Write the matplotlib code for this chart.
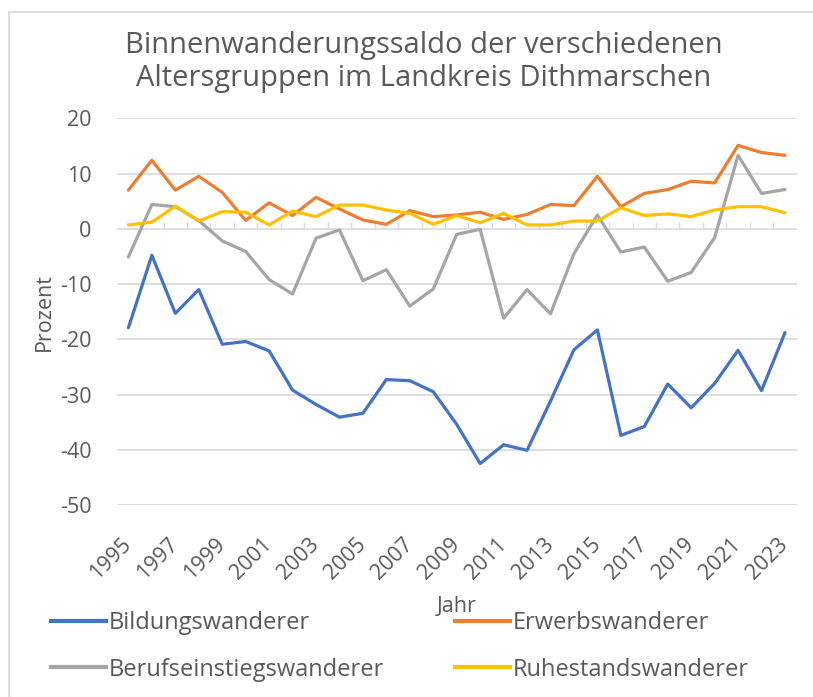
#!/usr/bin/env python3
"""Binnenwanderungssaldo der Altersgruppen im Landkreis Dithmarschen."""

import matplotlib
matplotlib.use("Agg")
import matplotlib.pyplot as plt
from matplotlib.lines import Line2D

# ============================================================================
# DATA
# ============================================================================

years = list(range(1995, 2024))

bildung = [-17.9, -4.8, -15.3, -11.0, -20.9, -20.4, -22.1, -29.2, -31.8, -34.1,
           -33.4, -27.3, -27.5, -29.5, -35.4, -42.5, -39.1, -40.1, -31.2, -21.9,
           -18.3, -37.4, -35.8, -28.1, -32.4, -28.0, -22.0, -29.3, -18.8]
erwerb = [7.0, 12.4, 7.0, 9.5, 6.6, 1.5, 4.7, 2.4, 5.7, 3.6,
          1.6, 0.8, 3.3, 2.2, 2.5, 3.0, 1.7, 2.6, 4.4, 4.2,
          9.5, 4.0, 6.4, 7.1, 8.6, 8.3, 15.1, 13.8, 13.3]
berufseinstieg = [-5.1, 4.4, 4.0, 1.5, -2.2, -4.1, -9.2, -11.8, -1.7, -0.2,
                  -9.4, -7.4, -14.0, -10.9, -1.0, -0.1, -16.2, -11.0, -15.4, -4.5,
                  2.5, -4.2, -3.3, -9.5, -7.9, -1.6, 13.3, 6.4, 7.1]
ruhestand = [0.7, 1.2, 4.1, 1.4, 3.1, 3.0, 0.7, 3.2, 2.2, 4.3,
             4.3, 3.4, 2.8, 0.8, 2.4, 1.1, 2.8, 0.7, 0.7, 1.4,
             1.4, 3.8, 2.4, 2.7, 2.2, 3.4, 4.0, 4.0, 2.9]

series_names = ["Bildungswanderer", "Erwerbswanderer",
                "Berufseinstiegswanderer", "Ruhestandswanderer"]
y_ticks = [20, 10, 0, -10, -20, -30, -40, -50]

# ============================================================================

COLORS = ["#4472C4", "#ED7D31", "#A5A5A5", "#FFC000"]
TEXT = "#595959"
GRID = "#D9D9D9"
FONT = "Open Sans"

plt.rcParams["font.family"] = [FONT, "DejaVu Sans"]
plt.rcParams["axes.unicode_minus"] = False

fig = plt.figure(figsize=(8.13, 6.97), dpi=100)
ax = fig.add_axes([116.7 / 813, 1 - 505 / 697, 680 / 813, (505 - 118.3) / 697])

data = [bildung, erwerb, berufseinstieg, ruhestand]
for values, color in zip(data, COLORS):
    ax.plot(years, values, color=color, linewidth=2.3,
            solid_capstyle="round", solid_joinstyle="round", zorder=3)

ax.set_xlim(years[0] - 0.5, years[-1] + 0.5)
ax.set_ylim(min(y_ticks), max(y_ticks))
ax.set_yticks(y_ticks)
ax.yaxis.grid(True, color=GRID, linewidth=1.2)
ax.set_axisbelow(True)
for side in ["top", "right", "left", "bottom"]:
    ax.spines[side].set_visible(False)

ax.tick_params(axis="y", length=0, pad=18, labelsize=15.5, labelcolor=TEXT)
ax.set_xticks(years[::2])
ax.set_xticklabels([str(y) for y in years[::2]], rotation=45, ha="right",
                   va="center", rotation_mode="anchor")
ax.tick_params(axis="x", length=0, pad=26, labelsize=15.5, labelcolor=TEXT)

# horizontal axis line at y = 0 with tick marks between categories
zero_pos = (0 - min(y_ticks)) / (max(y_ticks) - min(y_ticks))
sec = ax.secondary_xaxis(zero_pos)
sec.set_xticks([y + 0.5 for y in years[:-1]])
sec.set_xticklabels([])
sec.tick_params(axis="x", direction="out", length=5, width=1, color=GRID)
sec.spines["bottom"].set_color(GRID)
sec.spines["bottom"].set_linewidth(1.2)
sec.spines["top"].set_visible(False)

ax.set_ylabel("Prozent", fontsize=15.5, color=TEXT, labelpad=4)
ax.set_xlabel("Jahr", fontsize=15.5, color=TEXT, labelpad=9)

fig.text(424 / 813, 1 - 62 / 697,
         "Binnenwanderungssaldo der verschiedenen\nAltersgruppen im Landkreis Dithmarschen",
         ha="center", va="center", fontsize=21, color=TEXT, linespacing=1.2)

# legend filled row by row (matplotlib fills columns first)
order = [0, 2, 1, 3]
handles = [Line2D([], [], color=COLORS[i], linewidth=3) for i in order]
labels = [series_names[i] for i in order]
fig.legend(handles, labels, ncol=2, loc="upper left",
           bbox_to_anchor=(30 / 813, 1 - 590 / 697), frameon=False,
           fontsize=17, labelcolor=TEXT, handlelength=2.3, handletextpad=0.15,
           columnspacing=3.0, labelspacing=0.95)

# chart border (light gray frame)
fig.add_artist(Line2D([9 / 813, 1], [1 - 12 / 697, 1 - 12 / 697],
                      color=GRID, linewidth=1.2, transform=fig.transFigure))
fig.add_artist(Line2D([9 / 813, 9 / 813], [0, 1 - 12 / 697],
                      color=GRID, linewidth=1.2, transform=fig.transFigure))

fig.savefig("out.png", dpi=100)
